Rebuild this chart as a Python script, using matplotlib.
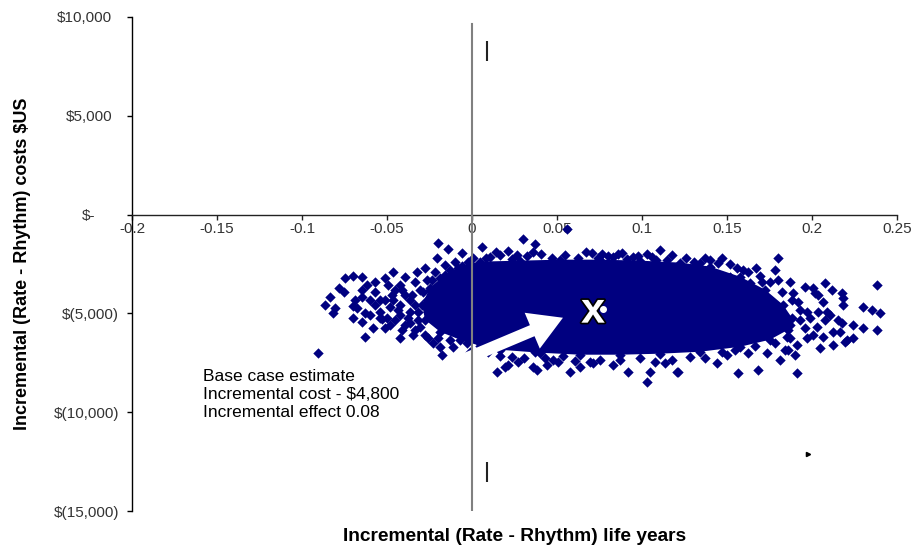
import matplotlib
matplotlib.use('Agg')
import matplotlib.pyplot as plt
import matplotlib.patheffects as pe

plt.rcParams['font.family'] = ['Liberation Sans', 'DejaVu Sans']

# Simulated incremental effect (life years) and cost ($US)
effect = [-0.0200, -0.0141, -0.0059, 0.0006, -0.0206, -0.0700, -0.0647, -0.0747, -0.0512, -0.0465,
          -0.0324, -0.0394, -0.0265, -0.0782, -0.0753, -0.0647, -0.0618, -0.0571, -0.0835, -0.0865,
          -0.0806, -0.0818, -0.0700, -0.0676, -0.0629, -0.0700, -0.0600, -0.0541, -0.0529, -0.0582,
          -0.0629, -0.0512, -0.0424, -0.0347, -0.0259, -0.0229, -0.0176, -0.0188, -0.0112, -0.0029,
          -0.0012, -0.0906, -0.0465, -0.0500, -0.0424, -0.0365, -0.0365, -0.0306, -0.0265, -0.0453,
          -0.0394, -0.0335, -0.0424, -0.0482, -0.0365, -0.0306, -0.0335, -0.0424, -0.0541, -0.0571,
          -0.0247, -0.0159, -0.0100, -0.0218, -0.0276, -0.0318, -0.0394, -0.0453, 0.0559, 0.0300,
          0.0371, 0.0059, 0.0212, 0.0359, 0.0106, 0.0265, 0.0165, 0.0706, 0.0765, 0.0859,
          0.0947, 0.1029, 0.1106, 0.1147, 0.0829, 0.0912, 0.1059, 0.0147, 0.0212, 0.0271,
          0.0371, 0.0382, 0.0441, 0.0476, 0.0576, 0.0635, 0.0712, 0.0829, 0.0918, 0.1029,
          0.1047, 0.1206, 0.0194, 0.0359, 0.0506, 0.0694, 0.1135, 0.0047, 0.1400, 0.1341,
          0.1447, 0.1518, 0.1594, 0.1671, 0.1800, 0.1782, 0.1800, 0.1871, 0.1706, 0.1635,
          0.1518, 0.1212, 0.1441, 0.1500, 0.1565, 0.1682, 0.1624, 0.1735, 0.1812, 0.1841,
          0.1900, 0.1912, 0.1853, 0.1959, 0.2006, 0.2076, 0.2118, 0.2176, 0.2182, 0.2035,
          0.2065, 0.2382, 0.2300, 0.2353, 0.2400, 0.2241, 0.2300, 0.2382, 0.2176, 0.2124,
          0.2076, 0.2088, 0.2029, 0.2006, 0.2065, 0.2124, 0.2194, 0.1971, 0.1912, 0.1859,
          0.1971, 0.1918, 0.1888, 0.2182, 0.2153, 0.2165, 0.2035, 0.2106, 0.2047, 0.2241,
          0.2206, 0.2018, 0.1929, 0.1959, 0.1988, 0.1929, 0.1871]
cost = [-1420, -1720, -1930, -2180, -2180, -3090, -3140, -3190, -3190, -2890,
        -2890, -3140, -3290, -3700, -3900, -3800, -3550, -3900, -4150, -4560,
        -4710, -4960, -4610, -4710, -4960, -5220, -4310, -4910, -5270, -5720,
        -6180, -5720, -6230, -6080, -6230, -6480, -7090, -6690, -6690, -6480,
        -6940, -6990, -4310, -5220, -5070, -4310, -5470, -5670, -4310, -3800,
        -4050, -4560, -4560, -4660, -4910, -3800, -3390, -3550, -4310, -4560,
        -3800, -2530, -2380, -2890, -2690, -5320, -5570, -5320, -710, -1220,
        -1470, -1620, -1820, -1870, -2130, -2030, -2030, -1930, -1980, -1980,
        -2130, -1980, -1770, -2280, -2130, -2230, -2130, -7950, -7600, -7450,
        -6940, -7850, -7600, -7350, -7950, -7700, -7500, -7600, -7950, -8460,
        -7950, -7950, -7700, -7700, -7450, -7450, -7500, -6480, -2280, -2430,
        -2430, -2480, -2790, -2690, -2180, -2790, -3290, -3390, -3390, -3450,
        -3140, -7950, -7500, -7090, -8000, -7850, -6990, -6990, -7350, -6840,
        -7090, -8000, -6180, -3650, -3700, -3450, -3800, -3950, -4200, -4050,
        -4410, -3550, -4660, -4810, -4960, -5570, -5720, -5830, -5470, -5930,
        -5320, -4910, -5670, -6080, -6180, -6590, -6430, -6230, -6590, -6840,
        -4910, -4410, -3950, -4560, -5320, -5930, -4910, -5070, -6740, -6230,
        -6330, -3950, -5320, -5720, -5220, -4810, -5570]

# Points crowded along the edges of the dense core
edge_effect = [0.0082, 0.0141, 0.0235, 0.0324, 0.0406, 0.0471, 0.0547, 0.0624, 0.0671, 0.0741,
               0.0800, 0.0882, 0.0976, 0.1082, 0.1176, 0.1259, 0.1306, 0.1371, 0.1471, 0.1559,
               0.1624, 0.1694, 0.1753, 0.1824, 0.1882,
               0.0094, 0.0165, 0.0235, 0.0306, 0.0429, 0.0535, 0.0606, 0.0753, 0.0871, 0.0988,
               0.1076, 0.1176, 0.1282, 0.1371, 0.1471, 0.1547, 0.1665, 0.1782, 0.1871,
               -0.0512, -0.0471, -0.0412, -0.0353, -0.0288, -0.0435, -0.0376, -0.0318, -0.0259,
               -0.0482, -0.0412, -0.0335, -0.0276, -0.0200, -0.0129, -0.0235, -0.0188, -0.0129,
               -0.0082, -0.0024, -0.0188, -0.0541, -0.0600, -0.0647, -0.0688, -0.0647, -0.0494,
               -0.0571]
edge_cost = [-2180, -1870, -2230, -2080, -1980, -2180, -2030, -2180, -1870, -2180,
             -2080, -1930, -2080, -2280, -2030, -2180, -2380, -2180, -2180, -2690,
             -2890, -3090, -3390, -3900, -4310,
             -6940, -7140, -7190, -7240, -7240, -7140, -7400, -7350, -7350, -7240,
             -7450, -7350, -7190, -7240, -6940, -6840, -6640, -6480, -6230,
             -4310, -4050, -3800, -4050, -3900, -4810, -5220, -4910, -4910,
             -5570, -5830, -5830, -6080, -6230, -6330, -3290, -3190, -2790,
             -2690, -2380, -3550, -5220, -5070, -5420, -4310, -4150, -3550,
             -3390]

# Outline of the solid (fully overlapping) core of the cloud
core_effect = [-0.0294, -0.0247, -0.0159, -0.0059, 0.0047, 0.0282, 0.0518, 0.0753, 0.0988, 0.1224,
               0.1400, 0.1576, 0.1724, 0.1829, 0.1882, 0.1859, 0.1753, 0.1576, 0.1341, 0.1106,
               0.0871, 0.0635, 0.0400, 0.0165, 0.0047, -0.0071, -0.0188, -0.0276]
core_cost = [-4560, -3700, -3040, -2580, -2380, -2330, -2280, -2280, -2330, -2430,
             -2630, -3140, -3800, -4560, -5220, -5830, -6330, -6690, -6940, -7040,
             -7090, -7090, -6990, -6840, -6640, -6330, -5930, -5320]

base_effect = 0.077
base_cost = -4760

bar_x = [0.0086, 0.0086]
bar_lo = [7770, -13530]
bar_hi = [8780, -12510]
stray_x = [0.1976]
stray_y = [-12110]

x_ticks = [-0.2, -0.15, -0.1, -0.05, 0, 0.05, 0.1, 0.15, 0.2, 0.25]
x_tick_labels = ['-0.2', '-0.15', '-0.1', '-0.05', '0', '0.05', '0.1', '0.15', '0.2', '0.25']
y_ticks = [-15000, -10000, -5000, 0, 5000, 10000]
y_tick_labels = ['$(15,000)', '$(10,000)', '$(5,000)', '$-', '$5,000', '$10,000']
y_tick_pads = [5.8, 5.8, 5.8, 23.0, 10.8, 10.8]

arrow_tail = (-0.0218, -7950)
arrow_head = (0.0535, -5220)
x_mark_pos = (0.0712, -5470)
note_pos = (-0.158, -7800)

navy = '#000080'

fig = plt.figure(figsize=(9.17, 5.47), dpi=100)
ax = fig.add_axes([132 / 917, 1 - 511 / 547, 765 / 917, 494 / 547])
ax.set_xlim(-0.2, 0.25)
ax.set_ylim(-15000, 10000)

ax.fill(core_effect, core_cost, color=navy, lw=0, zorder=2)
ax.scatter(effect + edge_effect + core_effect, cost + edge_cost + core_cost, marker='D', s=28,
           color=navy, linewidths=0, zorder=3)

ax.annotate('', xy=arrow_head, xytext=arrow_tail,
            arrowprops=dict(arrowstyle='simple,head_length=2.4,head_width=2.8,tail_width=0.86',
                            fc='white', ec='none', shrinkA=0, shrinkB=0, mutation_scale=10),
            zorder=3.5)

ax.axvline(0, ymin=0, ymax=0.986, color='#808080', lw=1.5, zorder=4)
ax.vlines(bar_x, bar_lo, bar_hi, color='#222222', lw=1.5, zorder=4)
ax.plot(stray_x, stray_y, marker='>', ms=3, color='k', ls='none', zorder=4)

ax.text(x_mark_pos[0], x_mark_pos[1], 'x', color='white', fontsize=31, fontweight='bold',
        ha='center', va='baseline', zorder=6,
        path_effects=[pe.Stroke(linewidth=2.5, foreground='black'), pe.Normal()])
ax.plot([base_effect], [base_cost], marker='o', ms=4, color='white', mec='white', ls='none', zorder=6)

ax.text(note_pos[0], note_pos[1],
        'Base case estimate\nIncremental cost - $4,800\nIncremental effect 0.08',
        fontsize=12.5, ha='left', va='top', linespacing=1.28, color='black', zorder=6)

for s in ['top', 'right']:
    ax.spines[s].set_visible(False)
ax.spines['bottom'].set_position(('data', 0))
ax.spines['bottom'].set_color('#222222')
ax.spines['left'].set_color('black')
ax.spines['bottom'].set_linewidth(1)
ax.spines['left'].set_linewidth(1)

ax.set_xticks(x_ticks)
ax.set_xticklabels(x_tick_labels)
ax.set_yticks(y_ticks)
ax.set_yticklabels(y_tick_labels)
ax.tick_params(axis='x', direction='out', length=3.6, width=1, pad=2, labelsize=11,
               labelcolor='#333333', color='#222222')
ax.tick_params(axis='y', direction='out', length=3.6, width=1, labelsize=11,
               labelcolor='#333333', color='black')
for tick, p in zip(ax.yaxis.get_major_ticks(), y_tick_pads):
    tick.set_pad(p)

ax.set_xlabel('Incremental (Rate - Rhythm) life years', fontsize=13.8, fontweight='bold')
ax.xaxis.set_label_coords(0.5, -0.034)
ax.set_ylabel('Incremental (Rate - Rhythm) costs $US', fontsize=13, fontweight='bold')
ax.yaxis.set_label_coords(-0.132, 0.5)
ax.patch.set_visible(False)

fig.savefig('out.png', dpi=100)
